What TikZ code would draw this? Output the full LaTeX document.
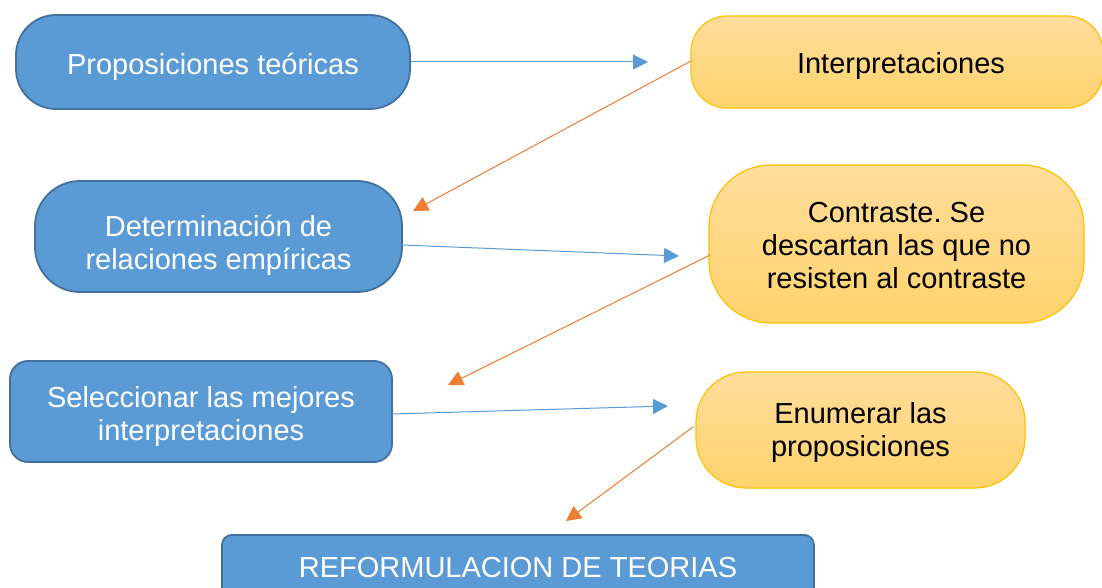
\documentclass[tikz,border=0pt]{standalone}
\usepackage{fontspec}
\setmainfont{Liberation Sans}
\usetikzlibrary{arrows.meta,calc}
\frenchspacing
\definecolor{bfill}{HTML}{5B9BD5}
\definecolor{bdraw}{HTML}{41719C}
\definecolor{ytop}{HTML}{FFDD9C}
\definecolor{ybot}{HTML}{FFD36C}
\definecolor{ydraw}{HTML}{FFC000}
\definecolor{orng}{HTML}{ED7D31}
\tikzset{
  bluebox/.style={draw=bdraw, fill=bfill, line width=1.8pt, inner sep=0pt},
  yellowbox/.style={draw=ydraw, top color=ytop, bottom color=ybot, line width=1.2pt, inner sep=0pt},
  btext/.style={text=white, align=center, inner sep=0pt, font=\fontsize{29}{33}\selectfont},
  ytext/.style={text=black, align=center, inner sep=0pt, font=\fontsize{29}{33}\selectfont},
  bluearrow/.style={draw=bfill, line width=1pt, -{Triangle[length=15pt,width=15pt]}},
  orangearrow/.style={draw=orng, line width=1pt, -{Triangle[length=15pt,width=15pt]}},
}
\begin{document}
\begin{tikzpicture}[x=1pt,y=-1pt]
\clip (0,0) rectangle (1102,588);
\fill[white] (0,0) rectangle (1102,588);
% boxes
\node[bluebox, rounded corners=40pt, minimum width=394pt, minimum height=94pt] (prop) at (213,62) {};
\node[yellowbox, rounded corners=36pt, minimum width=412pt, minimum height=92pt] (interp) at (897,62) {};
\node[bluebox, rounded corners=45pt, minimum width=367pt, minimum height=111pt] (det) at (218.5,236.5) {};
\node[yellowbox, rounded corners=62pt, minimum width=375pt, minimum height=158pt] (contr) at (896.5,244) {};
\node[bluebox, rounded corners=18pt, minimum width=382pt, minimum height=101pt] (sel) at (201,411.5) {};
\node[yellowbox, rounded corners=50pt, minimum width=329pt, minimum height=116pt] (enum) at (860.5,430) {};
\node[bluebox, rounded corners=10pt, minimum width=592pt, minimum height=70pt, anchor=north] (ref) at (518,534) {};
% texts
\node[btext] (prop-t) at ($(prop)+(0,5)$) {Proposiciones teóricas};
\node[ytext] (interp-t) at ($(interp)+(4,4)$) {Interpretaciones};
\node[btext] (det-t) at ($(det)+(0,9)$) {Determinación de\\relaciones empíricas};
\node[ytext] (contr-t) at ($(contr)+(0,2)$) {Contraste. Se\\descartan las que no\\resisten al contraste};
\node[btext] (sel-t) at ($(sel)+(0,5)$) {Seleccionar las mejores\\interpretaciones};
\node[ytext] (enum-t) at ($(enum)+(0,2.5)$) {Enumerar las\\proposiciones};
\node[btext] (ref-t) at (518,568) {REFORMULACION DE TEORIAS};
% arrow end coordinates
\coordinate (e1) at (648,62);
\coordinate (e2) at (413,211);
\coordinate (e3) at (679,256);
\coordinate (e4) at (448,385);
\coordinate (e5) at (668,406);
\coordinate (e6) at (566,521);
\coordinate (s2) at (691,61);
\coordinate (s3) at (402,245);
\coordinate (s4) at (710,255);
\coordinate (s5) at (392,414);
\coordinate (s6) at (693,427);
% connectors
\draw[bluearrow] (prop.east) -- (e1);
\draw[orangearrow] (s2) -- (e2);
\draw[bluearrow] (s3) -- (e3);
\draw[orangearrow] (s4) -- (e4);
\draw[bluearrow] (s5) -- (e5);
\draw[orangearrow] (s6) -- (e6);
\end{tikzpicture}
\end{document}
